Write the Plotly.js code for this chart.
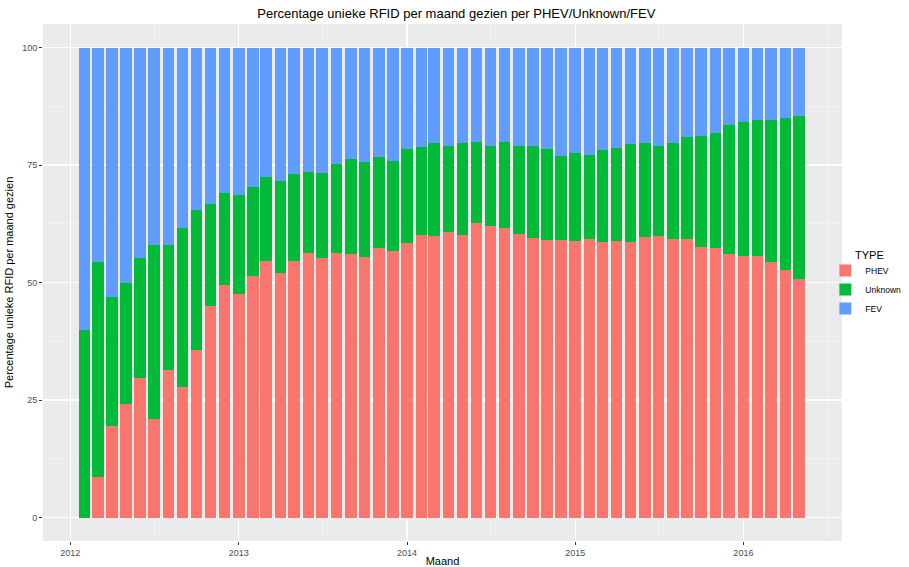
<!DOCTYPE html>
<html>
<head>
<meta charset="utf-8">
<script src="https://cdn.plot.ly/plotly-3.0.1.min.js"></script>
<style>
  body { margin: 0; background: #fff; }
  #chart { width: 909px; height: 567px; }
</style>
</head>
<body>
<div id="chart"></div>
<script>
// maanden (eerste dag van de maand)
var maanden = [
  '2012-02-01', '2012-03-01', '2012-04-01', '2012-05-01', '2012-06-01', '2012-07-01',
  '2012-08-01', '2012-09-01', '2012-10-01', '2012-11-01', '2012-12-01',
  '2013-01-01', '2013-02-01', '2013-03-01', '2013-04-01', '2013-05-01', '2013-06-01',
  '2013-07-01', '2013-08-01', '2013-09-01', '2013-10-01', '2013-11-01', '2013-12-01',
  '2014-01-01', '2014-02-01', '2014-03-01', '2014-04-01', '2014-05-01', '2014-06-01',
  '2014-07-01', '2014-08-01', '2014-09-01', '2014-10-01', '2014-11-01', '2014-12-01',
  '2015-01-01', '2015-02-01', '2015-03-01', '2015-04-01', '2015-05-01', '2015-06-01',
  '2015-07-01', '2015-08-01', '2015-09-01', '2015-10-01', '2015-11-01', '2015-12-01',
  '2016-01-01', '2016-02-01', '2016-03-01', '2016-04-01', '2016-05-01'
];

// percentages per type
var phev = [
  0.0, 8.6, 19.4, 24.1, 29.6, 20.9, 31.3, 27.7, 35.6, 45.0, 49.4,
  47.6, 51.3, 54.5, 52.1, 54.5, 56.2, 55.2, 56.2, 56.1, 55.5, 57.4, 56.7,
  58.4, 60.1, 59.9, 60.7, 60.1, 62.6, 62.0, 61.5, 60.4, 59.4, 59.0, 59.0,
  58.8, 59.2, 58.7, 58.8, 58.7, 59.6, 59.9, 59.2, 59.2, 57.6, 57.4, 56.1,
  55.7, 55.7, 54.3, 52.7, 50.8
];
var unknown = [
  39.9, 45.7, 27.6, 25.9, 25.6, 37.0, 26.6, 34.0, 29.9, 21.7, 19.7,
  21.0, 19.1, 17.9, 19.4, 18.6, 17.3, 18.0, 19.1, 20.1, 20.2, 19.3, 19.2,
  20.0, 18.8, 19.7, 18.4, 19.5, 17.2, 17.1, 18.3, 18.7, 19.7, 19.4, 18.0,
  18.7, 18.0, 19.5, 19.8, 20.7, 20.1, 19.2, 20.5, 21.7, 23.5, 24.5, 27.4,
  28.4, 28.9, 30.3, 32.4, 34.6
];
var fev = [
  60.1, 45.7, 53.0, 50.0, 44.8, 42.1, 42.1, 38.3, 34.5, 33.3, 30.9,
  31.4, 29.6, 27.6, 28.5, 26.9, 26.5, 26.8, 24.7, 23.8, 24.3, 23.3, 24.1,
  21.6, 21.1, 20.4, 20.9, 20.4, 20.2, 20.9, 20.2, 20.9, 20.9, 21.6, 23.0,
  22.5, 22.8, 21.8, 21.4, 20.6, 20.3, 20.9, 20.3, 19.1, 18.9, 18.1, 16.5,
  15.9, 15.4, 15.4, 14.9, 14.6
];

var types = ['PHEV', 'Unknown', 'FEV'];
var kleuren = ['#F8766D', '#00BA38', '#619CFF'];
var reeksen = [phev, unknown, fev];

var balkBreedte = 25 * 24 * 3600 * 1000; // ongeveer 0.9 maand in ms

var data = reeksen.map(function (r, i) {
  return {
    type: 'bar',
    x: maanden,
    y: r,
    name: types[i],
    width: balkBreedte,
    marker: { color: kleuren[i], line: { width: 0 } }
  };
});

var tekst = '#4D4D4D';

var layout = {
  width: 909,
  height: 567,
  barmode: 'stack',
  bargap: 0,
  paper_bgcolor: '#FFFFFF',
  plot_bgcolor: '#EBEBEB',
  font: { family: 'Liberation Sans, Arial, sans-serif', size: 11, color: '#000' },
  margin: { l: 43, r: 67, t: 24, b: 26, autoexpand: false },
  title: {
    text: 'Percentage unieke RFID per maand gezien per PHEV/Unknown/FEV',
    x: 0.502,
    xref: 'container',
    y: 0.985,
    yref: 'container',
    yanchor: 'top',
    font: { size: 13, color: '#000' }
  },
  xaxis: {
    type: 'date',
    range: ['2011-11-03', '2016-08-02'],
    tickvals: ['2012-01-01', '2013-01-01', '2014-01-01', '2015-01-01', '2016-01-01'],
    ticktext: ['2012', '2013', '2014', '2015', '2016'],
    tickfont: { size: 9, color: tekst },
    ticks: 'outside',
    ticklen: 3,
    tickcolor: '#333',
    showgrid: true,
    gridcolor: '#FFFFFF',
    gridwidth: 1.2,
    minor: {
      tickvals: ['2012-07-01', '2013-07-01', '2014-07-01', '2015-07-01', '2016-07-01'],
      showgrid: true,
      gridcolor: '#F6F6F6',
      gridwidth: 0.6
    },
    zeroline: false,
    showline: false,
    title: { text: 'Maand', font: { size: 11 }, standoff: 3 }
  },
  yaxis: {
    range: [-5, 105],
    tickvals: [0, 25, 50, 75, 100],
    tickfont: { size: 9, color: tekst },
    ticks: 'outside',
    ticklen: 3,
    tickcolor: '#333',
    showgrid: true,
    gridcolor: '#FFFFFF',
    gridwidth: 1.2,
    minor: {
      tickvals: [12.5, 37.5, 62.5, 87.5],
      showgrid: true,
      gridcolor: '#F6F6F6',
      gridwidth: 0.6
    },
    zeroline: false,
    showline: false,
    title: { text: 'Percentage unieke RFID per maand gezien', font: { size: 11 }, standoff: 6 }
  },
  showlegend: true,
  legend: {
    xref: 'container',
    yref: 'container',
    x: 0.908,
    xanchor: 'left',
    y: 0.5485,
    yanchor: 'top',
    traceorder: 'normal',
    font: { size: 8.5 },
    bgcolor: 'rgba(0,0,0,0)'
  },
  annotations: [{
    text: 'TYPE',
    xref: 'paper',
    yref: 'paper',
    x: 1.0135,
    y: 0.553,
    xanchor: 'left',
    yanchor: 'middle',
    showarrow: false,
    font: { size: 11, color: '#000' }
  }]
};

Plotly.newPlot('chart', data, layout, { displayModeBar: false, staticPlot: true });
</script>
</body>
</html>
